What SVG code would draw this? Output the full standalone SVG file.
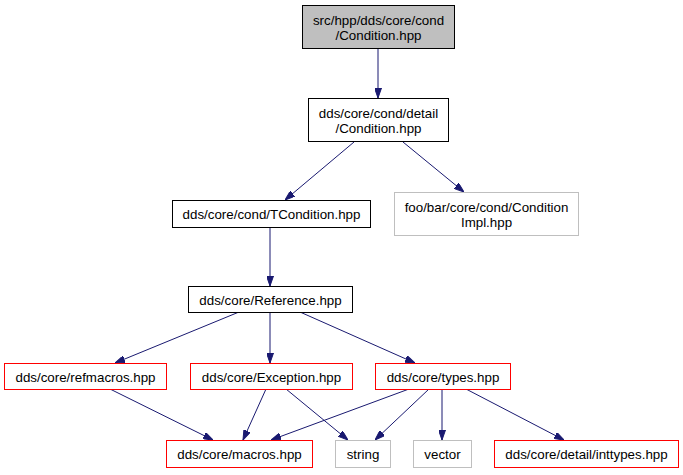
<svg xmlns="http://www.w3.org/2000/svg" width="683" height="475" viewBox="0 0 683 475">
<style>
text{font-family:"Liberation Sans",Arial,sans-serif;font-size:13.33px;fill:#000;text-anchor:middle}
.n rect{fill:#fff;stroke:#000;stroke-width:1}
.n.root rect{fill:#bfbfbf}
.n.trunc rect{stroke:#ff0000}
.n.ext rect{stroke:#bfbfbf}
#edges path{fill:none;stroke:#191970;stroke-width:1;marker-end:url(#arr)}
</style>
<defs>
<marker id="arr" viewBox="0 0 10 7" refX="10" refY="3.5" markerWidth="10" markerHeight="7" markerUnits="userSpaceOnUse" orient="auto">
<path d="M0,0 L10,3.5 L0,7 z" fill="#191970" stroke="#191970"/>
</marker>
</defs>
<rect width="683" height="475" fill="#fff"/>
<g id="edges">
<path d="M378,48 L378,98"/>
<path d="M354,142 L285,200"/>
<path d="M403,142 L464,192"/>
<path d="M270,227 L270,286"/>
<path d="M239,312 L115,363"/>
<path d="M270,312 L270,363"/>
<path d="M300,312 L415,363"/>
<path d="M110,389 L213,440"/>
<path d="M266,389 L243,440"/>
<path d="M286,389 L348,440"/>
<path d="M409,389 L271,440"/>
<path d="M429,389 L375,440"/>
<path d="M442,389 L442,440"/>
<path d="M466,389 L564,440"/>
</g>
<g id="n_root" class="n root"><rect x="302.5" y="5.5" width="152" height="43"/><text x="378.5" y="25">src/hpp/dds/core/cond</text><text x="378.5" y="40">/Condition.hpp</text></g>
<g id="n_detail" class="n"><rect x="308.5" y="98.5" width="140" height="43"/><text x="378.5" y="118">dds/core/cond/detail</text><text x="378.5" y="133">/Condition.hpp</text></g>
<g id="n_tcond" class="n"><rect x="172.5" y="200.5" width="198" height="27"/><text x="271.5" y="218.5">dds/core/cond/TCondition.hpp</text></g>
<g id="n_impl" class="n ext"><rect x="394.5" y="192.5" width="184" height="43"/><text x="486.5" y="212">foo/bar/core/cond/Condition</text><text x="486.5" y="227">Impl.hpp</text></g>
<g id="n_ref" class="n"><rect x="188.5" y="286.5" width="164" height="26"/><text x="270.5" y="304.5">dds/core/Reference.hpp</text></g>
<g id="n_refmacros" class="n trunc"><rect x="4.5" y="363.5" width="162" height="26"/><text x="85.5" y="381.5">dds/core/refmacros.hpp</text></g>
<g id="n_exception" class="n trunc"><rect x="190.5" y="363.5" width="162" height="26"/><text x="271.5" y="381.5">dds/core/Exception.hpp</text></g>
<g id="n_types" class="n trunc"><rect x="375.5" y="363.5" width="135" height="26"/><text x="443" y="381.5">dds/core/types.hpp</text></g>
<g id="n_macros" class="n trunc"><rect x="166.5" y="440.5" width="146" height="27"/><text x="239.5" y="458.5">dds/core/macros.hpp</text></g>
<g id="n_string" class="n ext"><rect x="335.5" y="440.5" width="55" height="27"/><text x="363" y="458.5">string</text></g>
<g id="n_vector" class="n ext"><rect x="413.5" y="440.5" width="58" height="27"/><text x="442.5" y="458.5">vector</text></g>
<g id="n_inttypes" class="n trunc"><rect x="494.5" y="440.5" width="184" height="27"/><text x="586.5" y="458.5">dds/core/detail/inttypes.hpp</text></g>
</svg>
